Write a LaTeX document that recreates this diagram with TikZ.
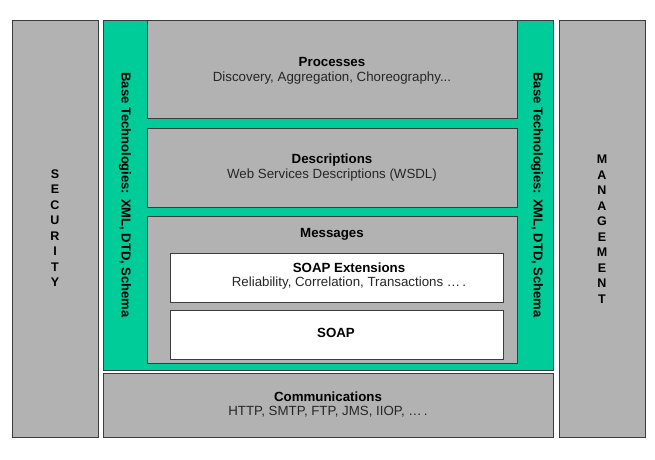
\documentclass[tikz,border=0pt]{standalone}
\usepackage{fontspec}
\setmainfont{Liberation Sans}
\definecolor{boxgray}{HTML}{B2B2B2}
\definecolor{basegreen}{HTML}{00CC99}
\definecolor{edge}{HTML}{3C3C3C}
\begin{document}
\begin{tikzpicture}[x=1pt,y=-1pt,
  box/.style={draw=edge,line width=0.9pt,fill=boxgray},
  gbox/.style={draw=edge,line width=0.9pt,fill=basegreen},
  wbox/.style={draw=edge,line width=0.9pt,fill=white},
  ttl/.style={font=\fontsize{13.3}{15}\selectfont\bfseries,text=black,inner sep=0pt},
  sub/.style={font=\fontsize{13.3}{15}\selectfont,text=black!85,inner sep=0pt},
  vert/.style={font=\fontsize{13}{15}\selectfont\bfseries,rotate=-90,inner sep=0pt},
  letters/.style={font=\fontsize{12.5}{15.5}\selectfont\bfseries,align=center,inner sep=0pt}]
\useasboundingbox (0,0) rectangle (655,459);
% side boxes
\draw[box] (12,20) rectangle (98,437);
\node[letters] (sec) at (55,228) {S\\E\\C\\U\\R\\I\\T\\Y};
\draw[box] (559,20) rectangle (645,437);
\node[letters] (man) at (602,229) {M\\A\\N\\A\\G\\E\\M\\E\\N\\T};
% green base
\draw[gbox] (103,20) rectangle (553,370);
\node[vert] (bt1) at (125,195) {Base Technologies: XML, DTD, Schema};
\node[vert] (bt2) at (537,195) {Base Technologies: XML, DTD, Schema};
% processes
\draw[box] (147,20) rectangle (517,118);
\node[ttl] (proc) at (332,62) {Processes};
\node[sub] (procs) at (332,78) {Discovery, Aggregation, Choreography...};
% descriptions
\draw[box] (147,128) rectangle (517,207);
\node[ttl] (desc) at (332,160) {Descriptions};
\node[sub] (descs) at (332,175) {Web Services Descriptions (WSDL)};
% messages
\draw[box] (147,216) rectangle (517,363);
\node[ttl] (msg) at (332,234) {Messages};
\draw[wbox] (170,253) rectangle (503,302);
\node[ttl] (ext) at (349,268) {SOAP Extensions};
\node[sub] (exts) at (349,283) {Reliability, Correlation, Transactions \dots\,.};
\draw[wbox] (170,310) rectangle (503,359);
\node[ttl] (soap) at (336,333) {SOAP};
% communications
\draw[box] (103,373) rectangle (553,437);
\node[ttl] (comm) at (328,397) {Communications};
\node[sub] (comms) at (328,412) {HTTP, SMTP, FTP, JMS, IIOP, \dots\,.};
\end{tikzpicture}
\end{document}
